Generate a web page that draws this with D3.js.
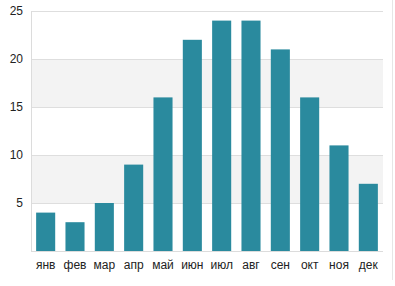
<!DOCTYPE html>
<html>
<head>
<meta charset="utf-8">
<script src="https://cdn.jsdelivr.net/npm/d3@7"></script>
<style>
  body { margin: 0; background: #fff; }
  svg text { font-family: "Liberation Sans", Arial, sans-serif; }
</style>
</head>
<body>
<div id="chart"></div>
<script>
// data
const months = ["янв", "фев", "мар", "апр", "май", "июн", "июл", "авг", "сен", "окт", "ноя", "дек"];
const values = [4, 3, 5, 9, 16, 22, 24, 24, 21, 16, 11, 7];
const yTicks = [5, 10, 15, 20, 25];

const width = 395, height = 286;
const margin = { top: 11, right: 12, bottom: 35, left: 31 };
const innerW = width - margin.left - margin.right;
const innerH = height - margin.top - margin.bottom;

const svg = d3.select("#chart")
    .append("svg")
    .attr("width", width)
    .attr("height", height);

// faint frame line at right edge
svg.append("line")
    .attr("x1", 392.5).attr("x2", 392.5)
    .attr("y1", 0).attr("y2", 280)
    .attr("stroke", "#e6e6e6");

const g = svg.append("g")
    .attr("transform", `translate(${margin.left},${margin.top})`);

const x = d3.scaleBand()
    .domain(months)
    .range([0, innerW])
    .paddingInner(0.35)
    .paddingOuter(0.175);

const y = d3.scaleLinear()
    .domain([0, 25])
    .range([innerH, 0]);

// alternating bands
const bandEdges = [0].concat(yTicks);
g.selectAll(".band")
    .data(d3.range(bandEdges.length - 1).filter(i => i % 2 === 1))
    .join("rect")
    .attr("class", "band")
    .attr("x", 0)
    .attr("width", innerW)
    .attr("y", i => y(bandEdges[i + 1]))
    .attr("height", i => y(bandEdges[i]) - y(bandEdges[i + 1]))
    .attr("fill", "#f3f3f3");

// gridlines
g.selectAll(".grid")
    .data(yTicks)
    .join("line")
    .attr("class", "grid")
    .attr("x1", 0).attr("x2", innerW)
    .attr("y1", d => Math.round(y(d)) + 0.5)
    .attr("y2", d => Math.round(y(d)) + 0.5)
    .attr("stroke", "#dedede");

// y axis line and labels
g.append("line")
    .attr("x1", 0.5).attr("x2", 0.5)
    .attr("y1", 0).attr("y2", innerH)
    .attr("stroke", "#dcdcdc");

const yAxis = d3.axisLeft(y).tickValues(yTicks).tickSize(0).tickPadding(8);
g.append("g").call(yAxis)
    .call(a => a.select(".domain").remove())
    .selectAll("text")
    .attr("font-size", 12)
    .attr("fill", "#222");

// bars
g.selectAll(".bar")
    .data(values)
    .join("rect")
    .attr("class", "bar")
    .attr("x", (d, i) => x(months[i]))
    .attr("width", x.bandwidth())
    .attr("y", d => y(d))
    .attr("height", d => innerH - y(d))
    .attr("fill", "#2a8a9e");

// baseline
g.append("line")
    .attr("x1", 0).attr("x2", innerW)
    .attr("y1", innerH + 0.5).attr("y2", innerH + 0.5)
    .attr("stroke", "#dcdcdc");

// x axis labels
const xAxis = d3.axisBottom(x).tickSize(0).tickPadding(9);
g.append("g")
    .attr("transform", `translate(0,${innerH})`)
    .call(xAxis)
    .call(a => a.select(".domain").remove())
    .selectAll("text")
    .attr("font-size", 12)
    .attr("fill", "#222");
</script>
</body>
</html>
